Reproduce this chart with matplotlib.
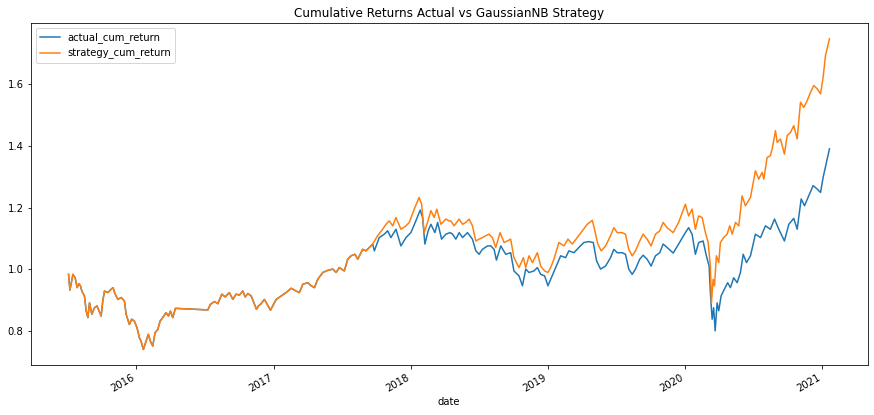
import numpy as np
import pandas as pd
import matplotlib
matplotlib.use("Agg")
import matplotlib.pyplot as plt
import matplotlib.dates as mdates

# Dates are given as fractional years
common_years = [2015.505, 2015.515, 2015.537, 2015.553, 2015.568, 2015.580, 2015.592, 2015.602,
                2015.621, 2015.634, 2015.646, 2015.658, 2015.675, 2015.694, 2015.712, 2015.723,
                2015.743, 2015.755, 2015.767, 2015.792, 2015.816, 2015.830, 2015.845, 2015.865,
                2015.889, 2015.913, 2015.925, 2015.949, 2015.966, 2015.985, 2016.005, 2016.022,
                2016.034, 2016.051, 2016.071, 2016.087, 2016.102, 2016.119, 2016.136, 2016.156,
                2016.173, 2016.192, 2016.216, 2016.233, 2016.248, 2016.265, 2016.284, 2016.520,
                2016.539, 2016.568, 2016.593, 2016.622, 2016.646, 2016.677, 2016.702, 2016.726,
                2016.750, 2016.775, 2016.792, 2016.811, 2016.836, 2016.855, 2016.874, 2016.889,
                2016.908, 2016.932, 2016.976, 2017.018, 2017.054, 2017.090, 2017.127, 2017.163,
                2017.187, 2017.212, 2017.249, 2017.273, 2017.297, 2017.321, 2017.358, 2017.394,
                2017.431, 2017.455, 2017.479, 2017.515, 2017.540, 2017.564, 2017.593, 2017.613,
                2017.649, 2017.673, 2017.697, 2017.722]
common_values = [0.984, 0.933, 0.984, 0.973, 0.941, 0.954, 0.947, 0.930,
                 0.914, 0.865, 0.844, 0.892, 0.855, 0.876, 0.882, 0.871,
                 0.849, 0.898, 0.930, 0.925, 0.936, 0.941, 0.920, 0.903,
                 0.909, 0.898, 0.855, 0.822, 0.839, 0.833, 0.811, 0.779,
                 0.768, 0.741, 0.768, 0.790, 0.768, 0.752, 0.795, 0.806,
                 0.833, 0.844, 0.860, 0.849, 0.865, 0.844, 0.874, 0.869,
                 0.887, 0.896, 0.889, 0.920, 0.911, 0.925, 0.903, 0.920,
                 0.917, 0.930, 0.911, 0.922, 0.914, 0.892, 0.871, 0.882,
                 0.889, 0.903, 0.868, 0.903, 0.914, 0.925, 0.939, 0.930,
                 0.925, 0.952, 0.957, 0.947, 0.941, 0.968, 0.990, 0.997,
                 1.001, 0.990, 1.006, 0.995, 1.033, 1.044, 1.049, 1.033,
                 1.065, 1.060, 1.071, 1.082]

actual_years = [2017.734, 2017.770, 2017.807, 2017.831, 2017.855, 2017.892, 2017.928, 2017.965,
                2018.001, 2018.037, 2018.069, 2018.086, 2018.103, 2018.127, 2018.147, 2018.176,
                2018.196, 2018.225, 2018.256, 2018.287, 2018.305, 2018.329, 2018.353, 2018.378,
                2018.414, 2018.450, 2018.475, 2018.499, 2018.523, 2018.560, 2018.584, 2018.608,
                2018.625, 2018.657, 2018.693, 2018.729, 2018.753, 2018.790, 2018.815, 2018.839,
                2018.863, 2018.899, 2018.924, 2018.948, 2018.977, 2019.001, 2019.026, 2019.057,
                2019.094, 2019.130, 2019.154, 2019.191, 2019.227, 2019.263, 2019.300, 2019.332,
                2019.356, 2019.385, 2019.422, 2019.458, 2019.482, 2019.507, 2019.543, 2019.567,
                2019.591, 2019.616, 2019.640, 2019.671, 2019.696, 2019.725, 2019.754, 2019.786,
                2019.817, 2019.842, 2019.871, 2019.915, 2019.955, 2020.004, 2020.028, 2020.053,
                2020.077, 2020.101, 2020.133, 2020.157, 2020.177, 2020.186, 2020.199, 2020.210,
                2020.221, 2020.235, 2020.247, 2020.264, 2020.288, 2020.312, 2020.332, 2020.356,
                2020.381, 2020.405, 2020.425, 2020.449, 2020.478, 2020.514, 2020.551, 2020.587,
                2020.623, 2020.653, 2020.684, 2020.725, 2020.757, 2020.793, 2020.818, 2020.847,
                2020.871, 2020.902, 2020.934, 2020.964, 2020.988, 2021.007, 2021.031, 2021.053]
actual_values = [1.060, 1.103, 1.114, 1.125, 1.103, 1.130, 1.076, 1.103,
                 1.119, 1.157, 1.192, 1.168, 1.082, 1.125, 1.146, 1.119,
                 1.152, 1.098, 1.114, 1.119, 1.114, 1.098, 1.119, 1.103,
                 1.119, 1.098, 1.060, 1.049, 1.065, 1.076, 1.076, 1.065,
                 1.030, 1.076, 1.049, 1.054, 0.995, 0.979, 0.947, 1.001,
                 0.990, 0.995, 1.006, 0.984, 0.979, 0.947, 0.973, 1.006,
                 1.044, 1.038, 1.060, 1.054, 1.071, 1.087, 1.090, 1.087,
                 1.028, 1.001, 1.011, 1.038, 1.065, 1.054, 1.054, 1.049,
                 1.001, 0.984, 1.001, 1.033, 1.046, 1.033, 1.011, 1.044,
                 1.054, 1.082, 1.071, 1.053, 1.082, 1.119, 1.135, 1.114,
                 1.049, 1.087, 1.092, 1.044, 1.011, 0.925, 0.839, 0.876,
                 0.801, 0.892, 0.866, 0.914, 0.936, 0.957, 0.941, 0.973,
                 0.957, 0.990, 1.049, 1.022, 1.044, 1.114, 1.103, 1.141,
                 1.130, 1.163, 1.130, 1.092, 1.146, 1.165, 1.130, 1.228,
                 1.206, 1.238, 1.271, 1.260, 1.249, 1.298, 1.346, 1.390]

strategy_years = [2017.758, 2017.795, 2017.819, 2017.843, 2017.868, 2017.892, 2017.928, 2017.965,
                  2017.989, 2018.025, 2018.061, 2018.079, 2018.098, 2018.122, 2018.147, 2018.171,
                  2018.190, 2018.220, 2018.256, 2018.280, 2018.292, 2018.316, 2018.353, 2018.378,
                  2018.402, 2018.426, 2018.450, 2018.475, 2018.499, 2018.523, 2018.547, 2018.571,
                  2018.596, 2018.620, 2018.652, 2018.681, 2018.705, 2018.729, 2018.753, 2018.790,
                  2018.822, 2018.839, 2018.863, 2018.888, 2018.924, 2018.948, 2018.977, 2019.001,
                  2019.021, 2019.045, 2019.081, 2019.118, 2019.147, 2019.179, 2019.215, 2019.252,
                  2019.288, 2019.325, 2019.341, 2019.365, 2019.390, 2019.422, 2019.458, 2019.482,
                  2019.507, 2019.543, 2019.567, 2019.591, 2019.616, 2019.640, 2019.671, 2019.696,
                  2019.725, 2019.754, 2019.786, 2019.817, 2019.842, 2019.871, 2019.915, 2019.955,
                  2020.004, 2020.028, 2020.053, 2020.077, 2020.101, 2020.126, 2020.150, 2020.170,
                  2020.186, 2020.194, 2020.206, 2020.216, 2020.230, 2020.247, 2020.259, 2020.283,
                  2020.308, 2020.327, 2020.345, 2020.369, 2020.393, 2020.417, 2020.441, 2020.478,
                  2020.514, 2020.538, 2020.563, 2020.575, 2020.599, 2020.623, 2020.636, 2020.660,
                  2020.672, 2020.696, 2020.725, 2020.745, 2020.769, 2020.793, 2020.818, 2020.842,
                  2020.866, 2020.891, 2020.915, 2020.939, 2020.964, 2020.988, 2021.007, 2021.024,
                  2021.041, 2021.053]
strategy_values = [1.109, 1.130, 1.146, 1.157, 1.141, 1.168, 1.130, 1.141,
                   1.152, 1.195, 1.233, 1.211, 1.119, 1.152, 1.190, 1.168,
                   1.195, 1.146, 1.163, 1.157, 1.157, 1.141, 1.163, 1.146,
                   1.152, 1.163, 1.141, 1.092, 1.098, 1.103, 1.109, 1.114,
                   1.103, 1.071, 1.119, 1.087, 1.092, 1.098, 1.038, 1.006,
                   1.038, 1.006, 1.044, 1.022, 1.054, 1.011, 0.995, 0.990,
                   1.006, 1.033, 1.087, 1.076, 1.098, 1.082, 1.103, 1.125,
                   1.146, 1.159, 1.130, 1.082, 1.060, 1.076, 1.109, 1.135,
                   1.119, 1.119, 1.114, 1.065, 1.044, 1.060, 1.092, 1.114,
                   1.098, 1.076, 1.114, 1.125, 1.152, 1.135, 1.119, 1.152,
                   1.211, 1.173, 1.195, 1.130, 1.173, 1.168, 1.119, 1.087,
                   1.011, 0.892, 0.968, 0.947, 1.044, 1.022, 1.087, 1.103,
                   1.114, 1.141, 1.114, 1.152, 1.141, 1.238, 1.206, 1.233,
                   1.319, 1.292, 1.314, 1.292, 1.362, 1.368, 1.390, 1.449,
                   1.411, 1.422, 1.373, 1.433, 1.443, 1.465, 1.422, 1.541,
                   1.524, 1.546, 1.573, 1.595, 1.584, 1.568, 1.622, 1.692,
                   1.724, 1.746]

title_text = "Cumulative Returns Actual vs GaussianNB Strategy"
series_names = ["actual_cum_return", "strategy_cum_return"]


def to_dates(years):
    out = []
    for y in years:
        yr = int(np.floor(y))
        start = pd.Timestamp(year=yr, month=1, day=1)
        end = pd.Timestamp(year=yr + 1, month=1, day=1)
        out.append(start + (end - start) * (y - yr))
    return pd.DatetimeIndex(out)


actual = pd.Series(common_values + actual_values, index=to_dates(common_years + actual_years))
strategy = pd.Series(common_values + strategy_values, index=to_dates(common_years + strategy_years))

W, H, DPI = 874, 415, 72
fig = plt.figure(figsize=(W / DPI, H / DPI), dpi=DPI)
ax = fig.add_axes([30.5 / W, (H - 365) / H, 837 / W, 341.7 / H])

ax.plot(actual.index, actual.values, color="#1f77b4", lw=1.5, label=series_names[0])
ax.plot(strategy.index, strategy.values, color="#ff7f0e", lw=1.5, label=series_names[1])

ax.xaxis.set_major_locator(mdates.YearLocator())
ax.xaxis.set_major_formatter(mdates.DateFormatter("%Y"))
ax.xaxis.set_minor_locator(matplotlib.ticker.NullLocator())
for lbl in ax.get_xticklabels():
    lbl.set_rotation(30)
    lbl.set_ha("right")
ax.tick_params(labelsize=10)

ax.set_title(title_text, fontsize=12)
ax.set_xlabel("date", fontsize=10)
ax.legend(loc="upper left", fontsize=10)

fig.savefig("out.png", dpi=DPI)
